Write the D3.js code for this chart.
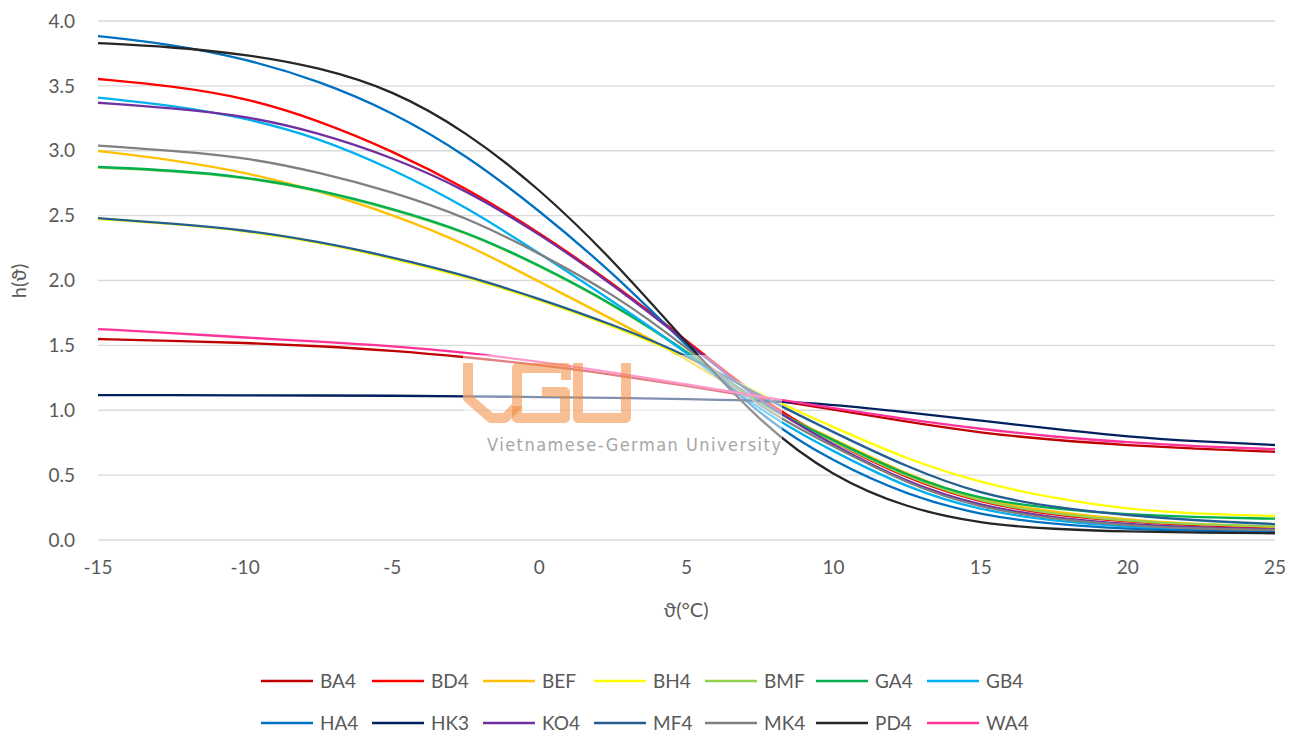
<!DOCTYPE html>
<html>
<head>
<meta charset="utf-8">
<title>h(ϑ)</title>
<script src="https://cdn.jsdelivr.net/npm/d3@7"></script>
<style>
  body { margin: 0; background: #fff; }
  text { font-family: Lato, "Open Sans", sans-serif; fill: #595959; }
</style>
</head>
<body>
<script>
const temps = [-15, -12.5, -10, -7.5, -5, -2.5, 0, 2.5, 5, 7.5, 10, 12.5, 15, 17.5, 20, 22.5, 25];

const BA4 = [1.549, 1.535, 1.52, 1.495, 1.46, 1.41, 1.35, 1.275, 1.19, 1.095, 1.005, 0.91, 0.825, 0.77, 0.73, 0.70, 0.68];
const BD4 = [3.553, 3.50, 3.41, 3.235, 3.00, 2.715, 2.37, 1.98, 1.54, 1.08, 0.75, 0.47, 0.285, 0.19, 0.14, 0.11, 0.095];
const BEF = [2.998, 2.93, 2.835, 2.69, 2.51, 2.285, 1.99, 1.70, 1.40, 1.04, 0.78, 0.50, 0.30, 0.215, 0.155, 0.12, 0.103];
const BH4 = [2.474, 2.44, 2.385, 2.295, 2.17, 2.03, 1.85, 1.65, 1.42, 1.12, 0.87, 0.62, 0.44, 0.32, 0.235, 0.20, 0.185];
const BMF = [2.87, 2.845, 2.795, 2.695, 2.55, 2.375, 2.115, 1.815, 1.455, 1.04, 0.76, 0.48, 0.29, 0.20, 0.145, 0.118, 0.105];
const GA4 = [2.875, 2.85, 2.80, 2.70, 2.556, 2.38, 2.12, 1.82, 1.46, 1.04, 0.77, 0.49, 0.31, 0.24, 0.195, 0.175, 0.164];
const GB4 = [3.41, 3.35, 3.255, 3.10, 2.86, 2.57, 2.21, 1.84, 1.45, 0.99, 0.68, 0.40, 0.225, 0.145, 0.10, 0.08, 0.072];
const HA4 = [3.884, 3.82, 3.71, 3.54, 3.30, 2.97, 2.54, 2.06, 1.50, 0.95, 0.60, 0.345, 0.19, 0.12, 0.085, 0.07, 0.062];
const HK3 = [1.117, 1.116, 1.115, 1.114, 1.112, 1.108, 1.102, 1.095, 1.087, 1.075, 1.045, 0.985, 0.92, 0.855, 0.795, 0.758, 0.732];
const KO4 = [3.37, 3.33, 3.27, 3.14, 2.95, 2.70, 2.36, 1.97, 1.53, 1.06, 0.73, 0.44, 0.26, 0.17, 0.12, 0.095, 0.082];
const MF4 = [2.48, 2.44, 2.39, 2.30, 2.18, 2.04, 1.86, 1.66, 1.43, 1.11, 0.83, 0.56, 0.35, 0.25, 0.19, 0.147, 0.123];
const MK4 = [3.04, 3.00, 2.95, 2.835, 2.684, 2.49, 2.21, 1.90, 1.49, 1.01, 0.72, 0.43, 0.245, 0.16, 0.11, 0.086, 0.077];
const PD4 = [3.83, 3.80, 3.745, 3.645, 3.47, 3.15, 2.71, 2.16, 1.52, 0.90, 0.48, 0.245, 0.125, 0.083, 0.064, 0.056, 0.052];
const WA4 = [1.626, 1.595, 1.56, 1.53, 1.495, 1.445, 1.375, 1.29, 1.20, 1.105, 1.015, 0.93, 0.855, 0.795, 0.752, 0.72, 0.70];

const names = ["BA4", "BD4", "BEF", "BH4", "BMF", "GA4", "GB4", "HA4", "HK3", "KO4", "MF4", "MK4", "PD4", "WA4"];
const values = [BA4, BD4, BEF, BH4, BMF, GA4, GB4, HA4, HK3, KO4, MF4, MK4, PD4, WA4];
const colors = ["#C00000", "#FF0000", "#FFC000", "#FFFF00", "#92D050", "#00B050", "#00B0F0",
                "#0070C0", "#002060", "#7030A0", "#255E91", "#808080", "#262626", "#FF3399"];

const xTicks = [-15, -10, -5, 0, 5, 10, 15, 20, 25];
const yTicks = [0, 0.5, 1, 1.5, 2, 2.5, 3, 3.5, 4];

const w = 1302, h = 735;
const svg = d3.select("body").append("svg").attr("width", w).attr("height", h);

const x = d3.scaleLinear().domain([-15, 25]).range([98, 1275]);
const y = d3.scaleLinear().domain([0, 4]).range([540, 21]);

// gridlines
svg.append("g").selectAll("line").data(yTicks).join("line")
  .attr("x1", x(-15)).attr("x2", x(25))
  .attr("y1", d => y(d)).attr("y2", d => y(d))
  .attr("stroke", "#D9D9D9").attr("stroke-width", 1.3);

// axes labels
svg.append("g").selectAll("text").data(yTicks).join("text")
  .attr("x", 75).attr("y", d => y(d)).attr("dy", "0.35em")
  .attr("text-anchor", "end").style("font-size", "19px")
  .text(d => d.toFixed(1));

svg.append("g").selectAll("text").data(xTicks).join("text")
  .attr("x", d => x(d)).attr("y", 574)
  .attr("text-anchor", "middle").style("font-size", "19px")
  .text(d => d);

svg.append("text").attr("x", 686).attr("y", 617).attr("text-anchor", "middle")
  .style("font-size", "20px").text("ϑ(°C)");
svg.append("text").attr("transform", "translate(26,281) rotate(-90)")
  .attr("text-anchor", "middle").style("font-size", "20px").text("h(ϑ)");

// series
const line = d3.line()
  .x((d, i) => x(temps[i]))
  .y(d => y(d))
  .curve(d3.curveBasis);

svg.append("g").selectAll("path").data(values).join("path")
  .attr("d", line)
  .attr("fill", "none")
  .attr("stroke", (d, i) => colors[i])
  .attr("stroke-width", 2.3);

// VGU watermark
const wm = svg.append("g");
wm.append("rect").attr("x", 463).attr("y", 355).attr("width", 319).attr("height", 104)
  .attr("fill", "#fff").attr("opacity", 0.5);
const orange = wm.append("g").attr("fill", "none").attr("stroke", "#F08A3A")
  .attr("stroke-opacity", 0.55).attr("stroke-width", 10).attr("stroke-linejoin", "round");
orange.append("polyline").attr("points", "468,363 468,398 491,418 505,418 517,406 517,368 566,368 566,380");
orange.append("polyline").attr("points", "517,406 517,418 565,418 565,392 542,392");
orange.append("polyline").attr("points", "578,363 578,418 626,418 626,363");
wm.append("text").attr("x", 487).attr("y", 451)
  .attr("textLength", 294).attr("lengthAdjust", "spacing")
  .style("font-family", "'DejaVu Sans Condensed', 'DejaVu Sans', sans-serif")
  .style("font-size", "18px").style("fill", "#A6A6A6")
  .text("Vietnamese-German University");

// legend
const leg = svg.append("g").selectAll("g").data(names).join("g")
  .attr("transform", (d, i) => `translate(${261 + (i % 7) * 111},${i < 7 ? 681 : 723})`);
leg.append("line").attr("x1", 0).attr("x2", 52)
  .attr("stroke", (d, i) => colors[i]).attr("stroke-width", 2.3);
leg.append("text").attr("x", 59).attr("dy", "0.35em").style("font-size", "19px").text(d => d);
</script>
</body>
</html>
